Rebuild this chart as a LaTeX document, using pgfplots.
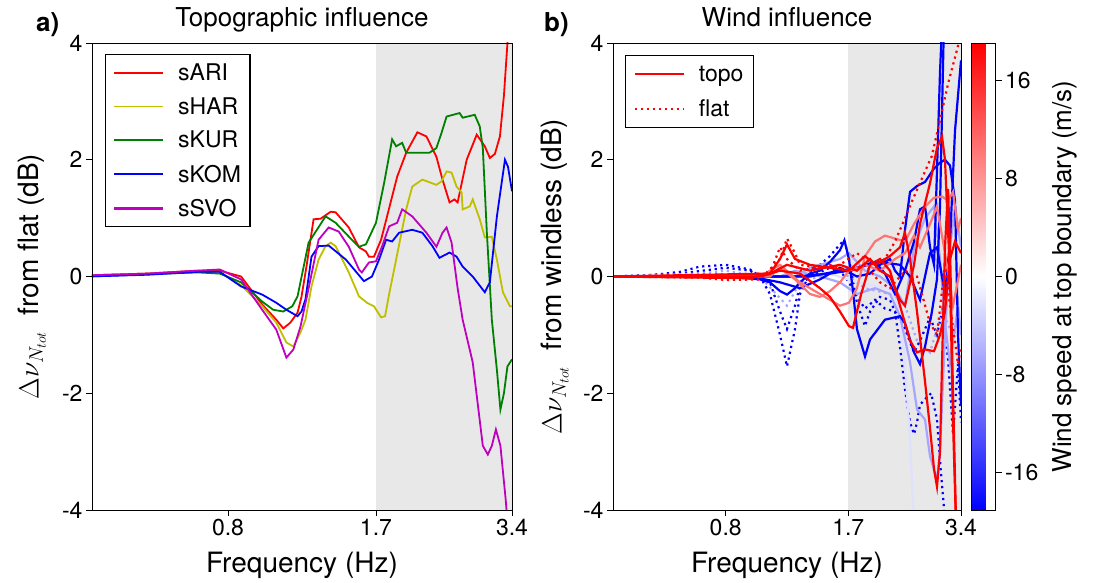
\RequirePackage{fix-cm}
\documentclass[border=0pt]{standalone}
\usepackage{fontspec}
\setmainfont{TeX Gyre Heros}
\usepackage{pgfplots}
\pgfplotsset{compat=1.18}
\definecolor{shade}{RGB}{232,232,232}
\definecolor{cyel}{RGB}{191,191,0}
\definecolor{cgrn}{RGB}{0,128,0}
\definecolor{mymag}{RGB}{191,0,191}
\colorlet{salmon}{red!55!white}
\colorlet{lav}{blue!35!white}
\colorlet{pale}{blue!12!white}
\pgfplotsset{legend image code/.code={\draw[#1] (0pt,0pt) -- (24.5pt,0pt) -- (49pt,0pt);}}
\tikzset{topo/.style={line width=2.2pt}, flat/.style={line width=2.2pt, dash pattern=on 2.2pt off 3.8pt},
  lw/.style={line width=1.8pt}}
\begin{document}
\begin{tikzpicture}
\useasboundingbox (0,0) rectangle (1093pt,583pt);
\node[anchor=base west, inner sep=0pt, font=\fontsize{26}{30}\selectfont\bfseries] at (36pt,551pt) {a)};
\node[anchor=base west, inner sep=0pt, font=\fontsize{26}{30}\selectfont\bfseries] at (544pt,551pt) {b)};

\begin{axis}[at={(92pt,73pt)}, anchor=south west, width=420pt, height=467pt,
    scale only axis, xmode=log, xmin=0.4, xmax=3.4, ymin=-4, ymax=4,
    xtick={0.8,1.7,3.4}, xticklabels={0.8,1.7,3.4},
    ytick={-4,-2,0,2,4}, yticklabels={-4,-2,0,2,4},
    xminorticks=false, yminorticks=false,
    tick align=outside, xtick pos=bottom, ytick pos=left,
    major tick length=6pt,
    tick label style={font=\fontsize{23}{27}\selectfont},
    label style={font=\fontsize{28}{32}\selectfont},
    title style={font=\fontsize{26}{30}\selectfont, at={(0.5,1)}, anchor=base, yshift=10pt},
    xlabel style={at={(axis description cs:0.5,0)}, anchor=base, yshift=-63pt},
    axis line style={line width=0.8pt},
    every tick/.style={black, line width=0.8pt},
    axis on top,
  title={Topographic influence}, xlabel={Frequency (Hz)},
  ylabel={$\Delta\nu_{N_{tot}}$\ \ from flat (dB)},
  ylabel style={at={(axis description cs:-0.143,0.5)}, anchor=center},
  legend style={at={(0,1)}, anchor=north west, xshift=13pt, yshift=-11pt, draw=black,
    line width=1.3pt, font=\fontsize{23}{27}\selectfont, legend cell align=left,
    inner xsep=7pt, inner ysep=7pt, row sep=11.5pt,
    /tikz/every odd column/.append style={column sep=12pt}},
]
\addplot[fill=shade, draw=none, forget plot] coordinates {(1.7,-4) (1.7,4) (3.4,4) (3.4,-4)} -- cycle;
\addlegendimage{draw=red, line width=1.8pt, solid}\addlegendentry{sARI}
\addlegendimage{draw=cyel, line width=1.8pt, solid}\addlegendentry{sHAR}
\addlegendimage{draw=cgrn, line width=1.8pt, solid}\addlegendentry{sKUR}
\addlegendimage{draw=blue, line width=1.8pt, solid}\addlegendentry{sKOM}
\addlegendimage{draw=mymag, line width=1.8pt, solid, legend image code/.code={\draw[draw=mymag, line width=2.6pt] (0pt,0pt) -- (49pt,0pt);}}\addlegendentry{sSVO}
\addplot[red, lw, forget plot] coordinates {
(0.394,0.02)(0.531,0.05)(0.685,0.10)(0.767,0.10)(0.855,0.00)(0.952,-0.48)(1.023,-0.74)(1.060,-0.89)(1.099,-0.79)(1.140,-0.62)(1.163,-0.35)(1.193,0.17)(1.237,0.98)(1.282,0.99)(1.350,1.11)(1.384,1.10)(1.480,0.84)(1.559,0.50)(1.615,0.43)(1.640,0.34)(1.683,0.34)(1.745,0.63)(1.799,1.03)(1.894,1.71)(1.983,2.12)(2.099,2.47)(2.198,2.40)(2.313,2.05)(2.386,1.66)(2.473,1.27)(2.537,1.32)(2.577,1.27)(2.699,2.00)(2.841,2.43)(2.960,2.23)(3.037,2.03)(3.116,2.10)(3.197,2.40)(3.263,3.10)(3.322,4.0)(3.37,4.6)};
\addplot[cyel, lw, forget plot] coordinates {
(0.394,0.02)(0.531,0.05)(0.685,0.08)(0.767,0.08)(0.855,-0.15)(0.952,-0.51)(1.023,-0.79)(1.077,-1.13)(1.116,-1.20)(1.157,-0.96)(1.187,-0.74)(1.224,-0.17)(1.269,0.29)(1.315,0.52)(1.350,0.58)(1.384,0.52)(1.480,0.07)(1.559,-0.34)(1.624,-0.45)(1.683,-0.51)(1.745,-0.70)(1.781,-0.68)(1.818,-0.30)(1.884,0.29)(1.983,1.15)(2.045,1.54)(2.153,1.66)(2.313,1.57)(2.374,1.63)(2.436,1.80)(2.499,1.78)(2.563,1.54)(2.630,1.44)(2.644,1.15)(2.741,1.20)(2.783,1.32)(2.885,0.98)(2.960,0.67)(3.068,0.68)(3.148,0.29)(3.246,-0.27)(3.365,-0.51)(3.4,-0.51)};
\addplot[cgrn, lw, forget plot] coordinates {
(0.394,0.00)(0.531,0.04)(0.685,0.07)(0.767,0.05)(0.855,-0.10)(0.952,-0.43)(1.007,-0.57)(1.060,-0.60)(1.110,-0.51)(1.140,-0.34)(1.206,0.58)(1.315,1.03)(1.384,0.92)(1.503,0.63)(1.559,0.51)(1.615,0.55)(1.700,0.92)(1.772,1.60)(1.846,2.35)(1.884,2.23)(1.943,2.29)(1.983,2.12)(2.088,2.12)(2.232,2.12)(2.313,2.20)(2.374,2.46)(2.436,2.74)(2.603,2.80)(2.644,2.72)(2.812,2.77)(2.885,2.57)(2.93,2.2)(2.991,0.75)(3.068,-0.74)(3.148,-1.60)(3.205,-2.28)(3.263,-2.00)(3.322,-1.54)(3.4,-1.42)};
\addplot[blue, lw, forget plot] coordinates {
(0.394,0.00)(0.531,0.03)(0.685,0.08)(0.767,0.08)(0.855,-0.17)(0.952,-0.31)(1.023,-0.45)(1.077,-0.57)(1.140,-0.68)(1.163,-0.60)(1.187,-0.39)(1.224,0.34)(1.269,0.52)(1.336,0.53)(1.458,0.29)(1.599,-0.08)(1.666,0.00)(1.727,0.29)(1.790,0.63)(1.846,0.60)(1.913,0.75)(2.045,0.80)(2.153,0.75)(2.267,0.52)(2.349,0.32)(2.473,0.41)(2.563,0.34)(2.644,0.17)(2.783,0.00)(2.960,-0.27)(3.037,-0.10)(3.148,1.03)(3.280,2.00)(3.331,1.88)(3.4,1.46)};
\addplot[mymag, lw, forget plot] coordinates {
(0.394,0.02)(0.531,0.05)(0.685,0.10)(0.767,0.12)(0.855,-0.05)(0.952,-0.57)(1.023,-0.91)(1.077,-1.39)(1.116,-1.25)(1.157,-0.86)(1.199,-0.30)(1.269,0.63)(1.336,0.84)(1.406,0.77)(1.480,0.51)(1.559,0.12)(1.582,0.07)(1.640,0.24)(1.700,0.26)(1.753,0.51)(1.818,0.86)(1.894,0.92)(1.943,1.15)(2.045,1.03)(2.198,0.75)(2.313,0.51)(2.386,0.75)(2.436,0.84)(2.499,0.58)(2.577,-0.20)(2.644,-0.74)(2.783,-1.47)(2.930,-2.90)(3.006,-3.05)(3.068,-2.90)(3.132,-2.62)(3.205,-2.90)(3.292,-3.82)(3.33,-4.3)};
\end{axis}

\begin{axis}[at={(613pt,73pt)}, anchor=south west, width=348pt, height=467pt,
    scale only axis, xmode=log, xmin=0.4, xmax=3.4, ymin=-4, ymax=4,
    xtick={0.8,1.7,3.4}, xticklabels={0.8,1.7,3.4},
    ytick={-4,-2,0,2,4}, yticklabels={-4,-2,0,2,4},
    xminorticks=false, yminorticks=false,
    tick align=outside, xtick pos=bottom, ytick pos=left,
    major tick length=6pt,
    tick label style={font=\fontsize{23}{27}\selectfont},
    label style={font=\fontsize{28}{32}\selectfont},
    title style={font=\fontsize{26}{30}\selectfont, at={(0.5,1)}, anchor=base, yshift=10pt},
    xlabel style={at={(axis description cs:0.5,0)}, anchor=base, yshift=-63pt},
    axis line style={line width=0.8pt},
    every tick/.style={black, line width=0.8pt},
    axis on top,
  title={Wind influence}, xlabel={Frequency (Hz)},
  ylabel={$\Delta\nu_{N_{tot}}$\ \ from windless (dB)},
  ylabel style={at={(axis description cs:-0.167,0.5)}, anchor=center},
  legend style={at={(0,1)}, anchor=north west, xshift=12pt, yshift=-12pt, draw=black,
    line width=1.3pt, font=\fontsize{23}{27}\selectfont, legend cell align=left,
    inner xsep=8pt, inner ysep=8pt, row sep=13pt,
    /tikz/every odd column/.append style={column sep=12pt}},
  colormap={bwr}{rgb=(0,0,1) rgb=(1,1,1) rgb=(1,0,0)},
  point meta min=-19.1, point meta max=19.1,
  colorbar,
  colorbar style={at={(parent axis.north east)}, anchor=north west, xshift=2pt,
    width=24pt, height=467pt, scale only axis,
    ytick={-16,-8,0,8,16}, yticklabels={-16,-8,0,8,16},
    ytick pos=right, yticklabel pos=right, tick align=outside, major tick length=6pt,
    axis line style={line width=0.8pt}, every tick/.style={black, line width=0.8pt},
    yticklabel style={font=\fontsize{23}{27}\selectfont},
    ylabel={Wind speed at top boundary (m/s)},
    ylabel style={font=\fontsize{26}{30}\selectfont, at={(axis description cs:3.9,0.5)}, anchor=center},
  },
]
\addplot[fill=shade, draw=none, forget plot] coordinates {(1.7,-4) (1.7,4) (3.4,4) (3.4,-4)} -- cycle;
\addlegendimage{color=red, topo}\addlegendentry{topo}
\addlegendimage{color=red, flat}\addlegendentry{flat}
\addplot[blue, flat, forget plot] coordinates {(0.400,0)(0.502,0.02)(0.604,0.08)(0.683,0.17)(0.801,0.2)(0.929,0.12)(0.988,0.0)(1.050,-0.3)(1.117,-1.0)(1.166,-1.54)(1.225,-0.9)(1.263,-0.3)(1.343,0.05)(1.428,0.2)(1.519,0.35)(1.615,0.55)(1.66,0.62)(1.707,0.3)(1.793,-0.45)(1.884,-0.85)(1.943,-0.6)(2.066,-0.35)(2.197,-0.4)(2.266,-0.6)(2.336,-1.2)(2.409,-1.93)(2.485,-2.5)(2.547,-2.7)(2.594,-2.5)(2.642,-2.2)(2.725,-2.1)(2.83,-2.0)(2.933,-2.45)(3.0,-3.3)(3.06,-3.95)(3.08,-4.3)};
\addplot[blue, flat, forget plot] coordinates {(0.400,0)(0.604,0.05)(0.801,0.15)(0.929,0.1)(1.050,-0.1)(1.117,-0.6)(1.166,-0.9)(1.225,-0.5)(1.263,-0.15)(1.343,0.0)(1.519,0.15)(1.615,0.1)(1.707,-0.1)(1.793,-0.35)(1.884,-0.55)(2.004,-0.4)(2.130,-0.55)(2.266,-0.6)(2.409,-0.9)(2.547,-1.3)(2.642,-1.1)(2.810,-0.7)(2.933,-1.0)(3.025,-0.6)(3.139,-1.4)(3.237,-2.7)(3.338,-1.5)(3.400,-2.5)};
\addplot[lav, flat, forget plot] coordinates {(0.400,0)(0.683,0.05)(0.801,0.1)(0.988,0.0)(1.166,-0.5)(1.263,-0.1)(1.615,0.1)(1.884,-0.2)(2.197,-0.3)(2.409,-0.5)(2.594,-1.1)(2.810,-1.3)(3.025,-0.6)(3.237,-1.0)(3.400,-0.8)};
\addplot[pale, topo, forget plot] coordinates {(0.400,0)(1.343,0.0)(1.519,0.05)(1.793,-0.1)(2.197,-0.2)(2.336,-0.6)(2.409,-1.5)(2.485,-2.8)(2.547,-4.3)};
\addplot[lav, topo, forget plot] coordinates {(0.400,0)(1.117,0.0)(1.225,0.1)(1.428,0.0)(1.615,-0.1)(1.793,-0.3)(2.004,-0.2)(2.197,-0.3)(2.336,-0.68)(2.485,-1.47)(2.594,-2.28)(2.725,-2.45)(2.810,-3.08)(2.933,-3.48)(2.988,-3.0)(3.081,-1.0)(3.178,0.5)(3.277,1.2)(3.400,0.5)};
\addplot[lav, topo, forget plot] coordinates {(0.400,0)(1.225,0.0)(1.343,0.15)(1.615,0.3)(1.707,0.4)(1.884,0.1)(2.066,0.0)(2.266,-0.2)(2.409,-0.5)(2.547,0.5)(2.725,1.0)(2.880,1.2)(2.988,0.3)(3.081,-0.8)(3.178,-1.5)(3.338,-0.5)(3.400,-1.0)};
\addplot[blue, topo, forget plot] coordinates {(0.400,0)(0.801,0.0)(0.988,-0.05)(1.050,-0.1)(1.117,-0.25)(1.166,-0.31)(1.225,-0.2)(1.263,-0.1)(1.343,0.05)(1.428,0.1)(1.519,0.25)(1.615,0.45)(1.66,0.62)(1.707,0.3)(1.75,-0.25)(1.793,-0.9)(1.884,-1.37)(1.943,-1.08)(2.130,-0.74)(2.336,-0.68)(2.409,-0.8)(2.547,-1.3)(2.642,-1.5)(2.725,-1.2)(2.840,-0.62)(2.933,-0.05)(2.988,1.2)(3.025,2.8)(3.06,4.3)};
\addplot[blue, topo, forget plot] coordinates {(0.400,0)(0.929,0.0)(1.117,-0.1)(1.263,-0.2)(1.428,-0.05)(1.615,0.15)(1.793,0.0)(1.943,0.05)(2.066,0.2)(2.197,0.3)(2.266,0.1)(2.336,0.0)(2.409,0.8)(2.485,1.45)(2.594,1.55)(2.725,1.62)(2.880,1.85)(2.988,1.95)(3.081,2.0)(3.178,1.9)(3.277,1.3)(3.338,-1.0)(3.400,-2.2)};
\addplot[blue, topo, forget plot] coordinates {(0.400,0)(1.225,0.0)(1.519,0.05)(1.707,0.1)(1.884,0.2)(2.004,0.25)(2.130,0.05)(2.266,-0.3)(2.409,0.1)(2.547,0.6)(2.642,1.15)(2.725,1.2)(2.810,0.5)(2.880,0.2)(2.933,1.8)(2.988,3.5)(3.025,4.3)};
\addplot[blue, topo, forget plot] coordinates {(0.400,0)(1.343,0.0)(1.615,0.1)(1.793,0.15)(2.066,0.25)(2.336,0.2)(2.485,0.0)(2.642,-0.4)(2.810,0.4)(2.933,0.5)(3.081,-0.3)(3.178,0.6)(3.277,2.5)(3.400,3.7)};
\addplot[salmon, topo, forget plot] coordinates {(0.400,0)(0.988,0.0)(1.117,0.2)(1.263,-0.1)(1.428,-0.3)(1.519,-0.4)(1.615,-0.5)(1.707,-0.45)(1.793,-0.2)(1.884,0.35)(2.004,0.6)(2.130,0.7)(2.266,0.65)(2.409,0.6)(2.547,0.9)(2.725,1.2)(2.880,1.35)(3.025,1.37)(3.139,1.3)(3.237,1.45)(3.338,0.8)(3.400,1.0)};
\addplot[salmon, topo, forget plot] coordinates {(0.400,0)(1.050,0.0)(1.117,0.15)(1.225,-0.05)(1.343,-0.3)(1.428,-0.35)(1.519,-0.25)(1.615,-0.1)(1.707,0.1)(1.884,0.2)(2.066,0.1)(2.266,0.3)(2.409,0.4)(2.547,0.7)(2.642,0.5)(2.810,0.9)(2.933,1.2)(3.081,0.4)(3.237,-0.5)(3.400,0.2)};
\addplot[red, flat, forget plot] coordinates {(0.400,0)(0.683,-0.02)(0.801,-0.06)(0.988,-0.05)(1.117,0.3)(1.166,0.65)(1.225,0.4)(1.263,0.2)(1.428,0.15)(1.615,0.2)(1.793,0.4)(1.884,0.3)(2.004,0.2)(2.130,0.3)(2.266,0.6)(2.409,1.0)(2.547,1.37)(2.725,1.8)(2.840,2.06)(2.933,2.45)(3.139,3.3)(3.338,3.95)(3.400,4.2)};
\addplot[red, flat, forget plot] coordinates {(0.400,0)(1.050,0.05)(1.117,0.5)(1.166,0.3)(1.263,0.1)(1.519,0.2)(1.707,0.1)(1.884,0.2)(2.066,-0.1)(2.197,-0.2)(2.409,0.1)(2.594,0.0)(2.810,-0.8)(2.933,-1.0)(3.081,0.2)(3.178,-0.5)(3.338,-1.5)(3.400,-1.2)};
\addplot[red, topo, forget plot] coordinates {(0.400,0)(0.929,-0.03)(1.050,0.05)(1.117,0.3)(1.166,0.55)(1.225,0.3)(1.343,0.2)(1.519,0.15)(1.707,0.1)(1.884,0.35)(2.004,0.2)(2.197,0.35)(2.336,0.5)(2.409,0.75)(2.485,0.3)(2.594,-0.6)(2.725,-1.8)(2.810,-2.6)(2.880,-3.3)(2.933,-3.6)(2.988,-3.0)(3.025,-1.5)(3.081,0.5)(3.139,1.5)(3.178,0.5)(3.237,-2.0)(3.300,-4.3)};
\addplot[red, topo, forget plot] coordinates {(0.400,0)(1.050,0.05)(1.166,0.2)(1.343,0.1)(1.615,0.2)(1.793,0.1)(1.943,0.3)(2.066,0.1)(2.197,0.0)(2.336,-0.4)(2.409,-0.5)(2.547,0.2)(2.642,0.9)(2.810,1.6)(2.933,2.2)(3.025,2.4)(3.081,2.0)(3.178,0.0)(3.237,-2.5)(3.300,-4.3)};
\addplot[red, topo, forget plot] coordinates {(0.400,0)(0.988,0.0)(1.117,0.1)(1.263,0.05)(1.428,-0.2)(1.519,-0.35)(1.615,-0.6)(1.707,-0.85)(1.75,-0.88)(1.84,-0.3)(1.943,0.2)(2.066,0.3)(2.197,0.1)(2.336,-0.5)(2.485,-1.1)(2.594,-1.3)(2.725,-1.25)(2.880,-1.28)(2.988,-1.0)(3.081,-0.6)(3.178,0.3)(3.277,0.6)(3.400,0.4)};
\end{axis}
\end{tikzpicture}
\end{document}
